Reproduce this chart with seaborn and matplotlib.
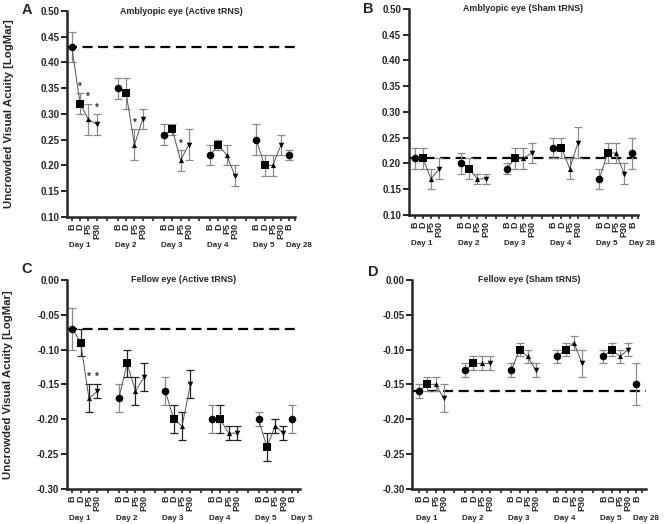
import matplotlib
matplotlib.use('Agg')
import matplotlib.pyplot as plt
import numpy as np
import pandas as pd
import seaborn as sns

# conditions / labels
conds = ['B', 'D', 'P5', 'P30']
day_names = ['Day 1', 'Day 2', 'Day 3', 'Day 4', 'Day 5']

# amblyopic eye, active tRNS
amb_active = [0.43, 0.32, 0.29, 0.28, 0.35, 0.34, 0.24, 0.29, 0.26, 0.27, 0.21, 0.24,
              0.22, 0.24, 0.22, 0.18, 0.25, 0.20, 0.20, 0.24, 0.22]
amb_active_err = [0.03, 0.02, 0.03, 0.02, 0.02, 0.03, 0.03, 0.02, 0.02, 0.01, 0.02, 0.03,
                  0.02, 0.01, 0.02, 0.02, 0.03, 0.02, 0.02, 0.02, 0.01]
amb_active_star = [1, 2, 3, 6, 10]

# amblyopic eye, sham tRNS
amb_sham = [0.21, 0.21, 0.17, 0.19, 0.20, 0.19, 0.17, 0.17, 0.19, 0.21, 0.21, 0.22,
            0.23, 0.23, 0.19, 0.24, 0.17, 0.22, 0.22, 0.18, 0.22]
amb_sham_err = [0.02, 0.02, 0.02, 0.02, 0.02, 0.02, 0.01, 0.01, 0.01, 0.02, 0.02, 0.02,
                0.02, 0.02, 0.02, 0.03, 0.02, 0.02, 0.02, 0.02, 0.03]

# fellow eye, active tRNS
fel_active = [-0.07, -0.09, -0.17, -0.16, -0.17, -0.12, -0.16, -0.14, -0.16, -0.20, -0.21, -0.15,
              -0.20, -0.20, -0.22, -0.22, -0.20, -0.24, -0.21, -0.22, -0.20]
fel_active_err = [0.03, 0.02, 0.02, 0.01, 0.02, 0.02, 0.02, 0.02, 0.02, 0.02, 0.02, 0.02,
                  0.02, 0.02, 0.01, 0.01, 0.01, 0.02, 0.01, 0.01, 0.02]
fel_active_star = [2, 3]

# fellow eye, sham tRNS
fel_sham = [-0.16, -0.15, -0.15, -0.17, -0.13, -0.12, -0.12, -0.12, -0.13, -0.10, -0.11, -0.13,
            -0.11, -0.10, -0.09, -0.12, -0.11, -0.10, -0.11, -0.10, -0.15]
fel_sham_err = [0.01, 0.01, 0.01, 0.02, 0.01, 0.01, 0.01, 0.01, 0.01, 0.01, 0.01, 0.01,
                0.01, 0.01, 0.01, 0.02, 0.01, 0.01, 0.01, 0.01, 0.03]

baselines = [0.43, 0.21, -0.07, -0.16]
titles = ['Amblyopic eye (Active tRNS)', 'Amblyopic eye (Sham tRNS)',
          'Fellow eye (Active tRNS)', 'Fellow eye (Sham tRNS)']
last_day = ['Day 28', 'Day 28', 'Day 5', 'Day 28']

sns.set_style('ticks')
plt.rcParams['font.family'] = ['Liberation Sans', 'DejaVu Sans']
plt.rcParams['font.weight'] = 'bold'

STEP = 5.6
xs = []
day_idx = []
cond_lab = []
for d in range(5):
    for j, c in enumerate(conds):
        xs.append(d * STEP + j)
        day_idx.append(d)
        cond_lab.append(c)
xs.append(4 * STEP + 4)
day_idx.append(5)
cond_lab.append('B')

W, H = 669, 524
fig = plt.figure(figsize=(6.69, 5.24), dpi=100)
boxes = [[0.100, 0.586, 0.341, 0.393], [0.611, 0.590, 0.343, 0.393],
         [0.100, 0.067, 0.348, 0.399], [0.616, 0.067, 0.350, 0.399]]
xlims = [(-0.6, 26.9), (-0.7, 26.9), (-0.65, 27.35), (-0.85, 27.6)]
letters = ['A', 'B', 'C', 'D']
letter_px = [(27, 10), (368, 9), (27, 269), (373, 272)]

series = [(amb_active, amb_active_err, amb_active_star),
          (amb_sham, amb_sham_err, []),
          (fel_active, fel_active_err, fel_active_star),
          (fel_sham, fel_sham_err, [])]
markers = {'B': 'o', 'D': 's', 'P5': '^', 'P30': 'v'}
sizes = {'B': 30, 'D': 30, 'P5': 14, 'P30': 16}

for k in range(4):
    ax = fig.add_axes(boxes[k])
    vals, errs, stars = series[k]
    df = pd.DataFrame({'x': xs, 'y': vals, 'err': errs, 'day': day_idx, 'cond': cond_lab})

    ax.axhline(baselines[k], color='black', lw=1.6, ls=(0, (4.5, 2.5)), zorder=1)

    # error bars
    for i, r in df.iterrows():
        col = '#8a8a8a'
        if k == 2 and r['cond'] != 'B':
            col = '#222222'
        ax.errorbar(r['x'], r['y'], yerr=r['err'], fmt='none', ecolor=col,
                    elinewidth=0.9, capsize=2.6, capthick=0.9, zorder=2)

    sns.lineplot(data=df[df['day'] < 5], x='x', y='y', units='day', estimator=None,
                 color='#555555', lw=0.7, ax=ax, legend=False, zorder=3)
    for c in conds:
        sub = df[df['cond'] == c]
        sns.scatterplot(data=sub, x='x', y='y', marker=markers[c], s=sizes[c],
                        color='black', edgecolor='black', linewidth=0, ax=ax,
                        legend=False, zorder=4)

    for i in stars:
        ax.text(xs[i], vals[i] + errs[i] + 0.003, '*', ha='center', va='bottom',
                fontsize=7, color='#333333')

    if k < 2:
        ax.set_ylim(0.10, 0.50)
        yt = np.arange(0.10, 0.501, 0.05)
    else:
        ax.set_ylim(-0.30, 0.0)
        yt = np.arange(-0.30, 0.001, 0.05)
    ax.set_yticks(yt)
    ax.set_yticklabels([f'{abs(v):.2f}' if abs(v) < 1e-9 else f'{v:.2f}' for v in yt],
                       fontsize=7, fontweight='bold')
    ax.set_xlim(*xlims[k])
    ax.set_xticks(xs)
    ax.set_xticklabels(cond_lab, rotation=90, fontsize=6.5, fontweight='bold')
    gaps = [d * STEP + 4.3 for d in range(4)] + [4 * STEP + 4.7]
    ax.set_xticks(gaps, minor=True)
    ax.tick_params(axis='x', which='both', length=3, width=1.2, pad=1.5)
    ax.tick_params(axis='y', length=4, width=1.4, pad=1.5)
    for s in ['left', 'bottom']:
        ax.spines[s].set_linewidth(1.8)
    sns.despine(ax=ax)
    ax.set_xlabel('')
    ax.set_ylabel('')

    names = day_names + [last_day[k]]
    for d, nm in enumerate(names):
        px = d * STEP + 0.9 if d < 5 else 4 * STEP + 5.2
        ax.text(px, -0.14, nm, transform=ax.get_xaxis_transform(), ha='center',
                va='center', fontsize=5.8, fontweight='bold', clip_on=False)

    ax.text(0.5, 1.0, titles[k], transform=ax.transAxes, ha='center', va='center',
            fontsize=6.4, fontweight='bold')
    if k % 2 == 0:
        ax.set_ylabel('Uncrowded Visual Acuity [LogMar]', fontsize=8.2, fontweight='bold')
        ax.yaxis.set_label_coords(-0.232, 0.5)
    fig.text(letter_px[k][0] / W, 1 - letter_px[k][1] / H, letters[k], fontsize=10.5,
             fontweight='bold', ha='center', va='center')

fig.savefig('out.png', dpi=100)
